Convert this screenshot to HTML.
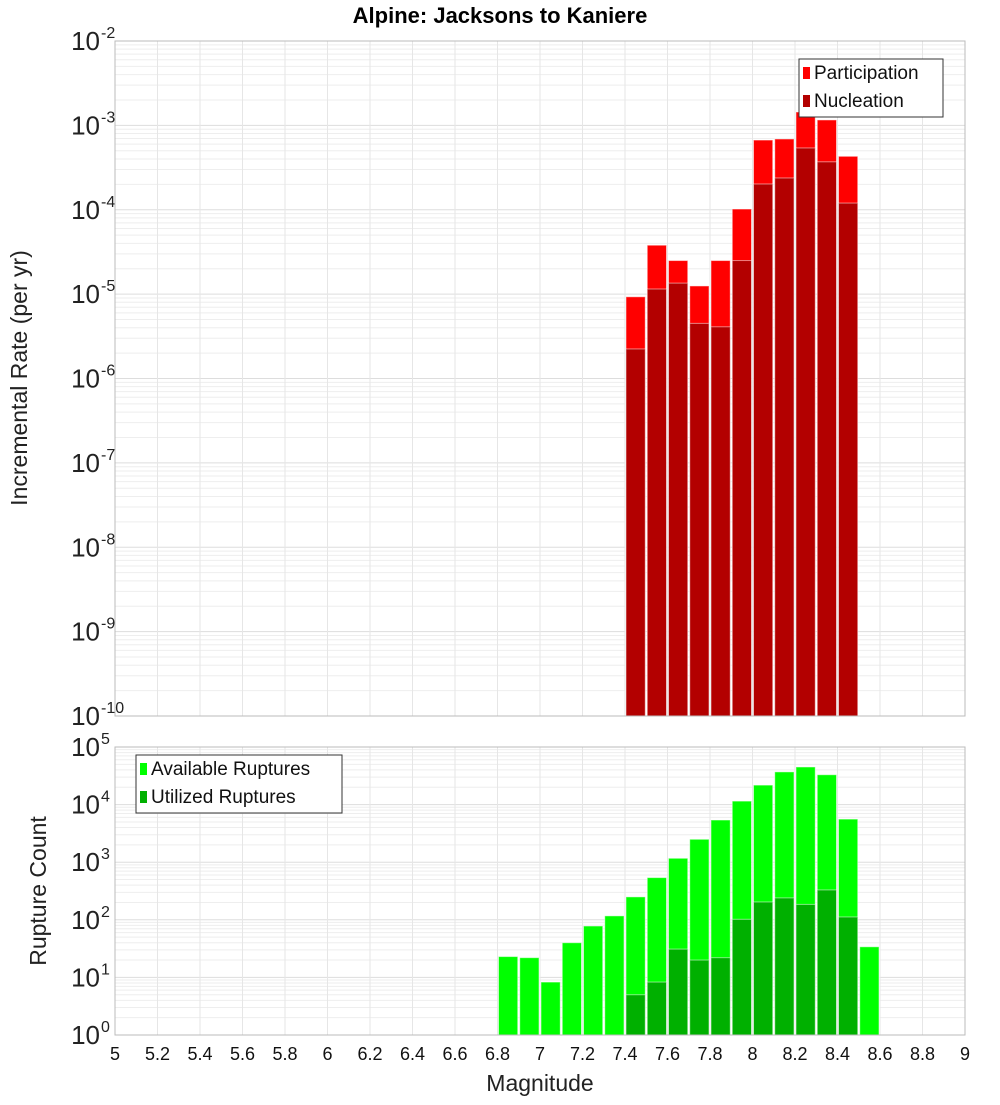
<!DOCTYPE html>
<html><head><meta charset="utf-8"><style>
body{margin:0;background:#fff;}
svg text{font-family:"Liberation Sans","DejaVu Sans",sans-serif;}
</style></head><body>
<svg id="c" width="1000" height="1100" xmlns="http://www.w3.org/2000/svg">
<text x="500" y="23" text-anchor="middle" font-size="22" font-weight="bold">Alpine: Jacksons to Kaniere</text>
<g id="topPanel"></g><g id="botPanel"></g>
<text transform="translate(27,378) rotate(-90)" text-anchor="middle" font-size="23" fill="#222">Incremental Rate (per yr)</text>
<text transform="translate(46,891) rotate(-90)" text-anchor="middle" font-size="23" fill="#222">Rupture Count</text>
<text x="540" y="1091" text-anchor="middle" font-size="23" fill="#222">Magnitude</text>
</svg>
<script>
const magBins=[7.45,7.55,7.65,7.75,7.85,7.95,8.05,8.15,8.25,8.35,8.45];
const participation=[9.3e-6,3.8e-5,2.5e-5,1.25e-5,2.5e-5,1.02e-4,6.7e-4,6.9e-4,1.44e-3,1.16e-3,4.3e-4];
const nucleation=[2.24e-6,1.15e-5,1.35e-5,4.5e-6,4.1e-6,2.5e-5,2.02e-4,2.38e-4,5.4e-4,3.7e-4,1.2e-4];
const countBins=[6.85,6.95,7.05,7.15,7.25,7.35,7.45,7.55,7.65,7.75,7.85,7.95,8.05,8.15,8.25,8.35,8.45,8.55];
const available=[23,22,8.3,40,78,117,250,540,1170,2500,5400,11500,21800,37000,45000,33000,5600,34];
const utilizedBins=[7.45,7.55,7.65,7.75,7.85,7.95,8.05,8.15,8.25,8.35,8.45];
const utilized=[5,8.3,31,20,22,102,204,240,185,330,112];
const xTicks=[5,5.2,5.4,5.6,5.8,6,6.2,6.4,6.6,6.8,7,7.2,7.4,7.6,7.8,8,8.2,8.4,8.6,8.8,9];
const topExp=[-10,-9,-8,-7,-6,-5,-4,-3,-2];
const botExp=[0,1,2,3,4,5];
const NS="http://www.w3.org/2000/svg";
const X0=115,X1=965;
const xs=m=>X0+(m-5)/4*(X1-X0);
function mk(p,t,a){const e=document.createElementNS(NS,t);for(const k in a)e.setAttribute(k,a[k]);p.appendChild(e);return e;}
function panel(g,y0,y1,lo,hi,name){
  const ys=v=>y1-(Math.log10(v)-lo)/(hi-lo)*(y1-y0);
  const bg=mk(g,'rect',{x:X0,y:y0,width:X1-X0,height:y1-y0,fill:'#fff',stroke:'#bbb'});
  
  
  for(let e=lo;e<hi;e++)for(let k=1;k<10;k++){const y=ys(k*Math.pow(10,e));
    mk(g,'line',{x1:X0,x2:X1,y1:y,y2:y,stroke:k==1?'#ddd':'#eee','stroke-width':1});}
  xTicks.forEach(m=>{const x=xs(m);mk(g,'line',{x1:x,x2:x,y1:y0,y2:y1,stroke:'#e6e6e6'});});
  return ys;
}
function bars(g,ys,bins,vals,fill,y1,name){
  bins.forEach((m,i)=>{const x=xs(m-0.05),w=xs(m+0.05)-x,y=ys(vals[i]);
    const r=mk(g,'rect',{x:x+1,y:y,width:w-2,height:y1-y,fill:fill,stroke:'rgba(255,255,255,0.5)','stroke-width':1});
    
    });
}
function yLabels(g,ys,exps,size,name){
  exps.forEach(e=>{const y=ys(Math.pow(10,e));
    const t=mk(g,'text',{x:100,y:y+9,'text-anchor':'end','font-size':size,fill:'#222'});
    
    
    t.textContent='10';
    const s=mk(g,'text',{x:101,y:y-3,'font-size':16,fill:'#222'});
    
    
    s.textContent=String(e);});
}
function legend(g,x,y,w,items,name){
  const b=mk(g,'rect',{x:x,y:y,width:w,height:58,fill:'#fff',stroke:'#333'});
  
  
  items.forEach((it,i)=>{
    mk(g,'rect',{x:x+4,y:y+8+i*28,width:7,height:12,fill:it[1]});
    const t=mk(g,'text',{x:x+15,y:y+20+i*28,'font-size':19,fill:'#111'});
    
    
    t.textContent=it[0];});
}
const topG=document.getElementById('topPanel'),botG=document.getElementById('botPanel');
const ysT=panel(topG,41,716,-10,-2,'top');
bars(topG,ysT,magBins,participation,'#ff0000',716,'participation');
bars(topG,ysT,magBins,nucleation,'#b30000',716,'nucleation');
yLabels(topG,ysT,topExp,26,'top-y');
legend(topG,799,59,144,[['Participation','#ff0000'],['Nucleation','#b30000']],'top-legend');
const ysB=panel(botG,747,1035,0,5,'bottom');
bars(botG,ysB,countBins,available,'#00ff00',1035,'available');
bars(botG,ysB,utilizedBins,utilized,'#00b000',1035,'utilized');
yLabels(botG,ysB,botExp,26,'bottom-y');
legend(botG,136,755,206,[['Available Ruptures','#00ff00'],['Utilized Ruptures','#00b000']],'bottom-legend');
mk(topG,'rect',{x:X0,y:41,width:X1-X0,height:675,fill:'none',stroke:'#bbb'});
mk(botG,'rect',{x:X0,y:747,width:X1-X0,height:288,fill:'none',stroke:'#bbb'});
xTicks.forEach(m=>{const t=mk(botG,'text',{x:xs(m),y:1060,'text-anchor':'middle','font-size':18,fill:'#111'});
  
  
  t.textContent=String(m);});
</script>
</body></html>
